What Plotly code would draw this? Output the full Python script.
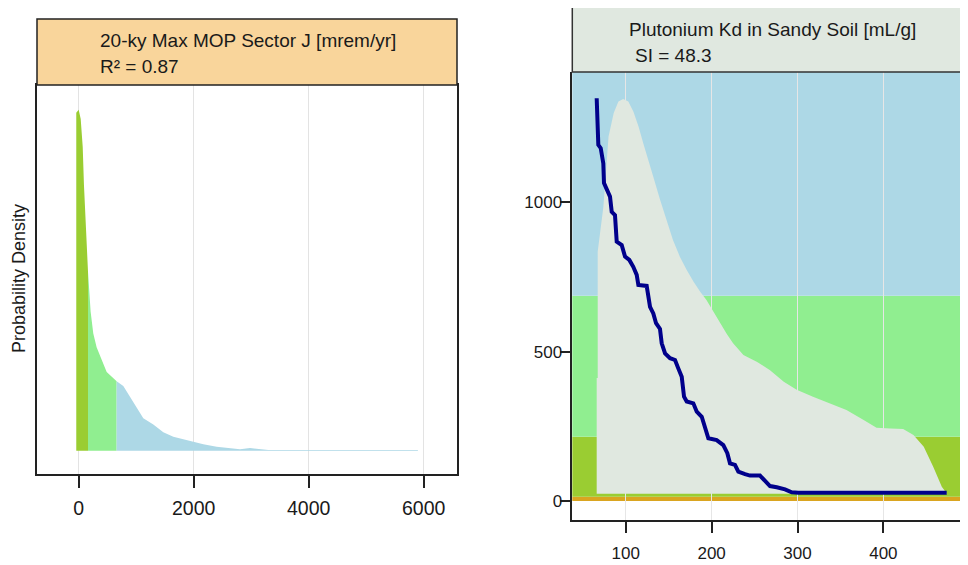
import plotly.graph_objects as go

W, H = 968, 565
OFF = 8  # page body margin around the plot div
FONT = "Liberation Sans, Arial, sans-serif"

# ---- left panel: dose density, split into three colour classes by dose ----
dose_low_x = [-42, 0, 35, 70, 92, 122, 150, 162]
dose_low_y = [21.9, 22.1, 21.5, 19.7, 17.2, 14.8, 12.5, 11.6]
dose_mid_x = [162, 180, 208, 254, 312, 400, 487, 660]
dose_mid_y = [11.6, 10.8, 9.0, 7.6, 6.7, 5.9, 5.1, 4.5]
dose_high_x = [660, 776, 892, 1008, 1124, 1298, 1472, 1646, 1820, 1994,
               2168, 2400, 2632, 2806, 2980, 3154, 3300, 5900]
dose_high_y = [4.5, 4.2, 3.5, 2.8, 2.1, 1.7, 1.2, 0.9, 0.74, 0.58,
               0.41, 0.26, 0.17, 0.09, 0.17, 0.08, 0.05, 0.05]
dose_ticks = [0, 2000, 4000, 6000]

# ---- right panel: Kd distribution (scaled) and conditional dose line ----
kd_x = [66.2, 66.2, 67.4, 67.4, 74, 80, 86, 91.5, 97, 103, 109, 115, 120.5,
        126, 132, 140, 147.5, 155, 163, 171, 179, 186.5, 194, 202, 210,
        217.5, 225, 237, 252.5, 268, 284, 299, 318, 338, 357, 377, 392, 408,
        423, 435, 447, 458, 468, 474]
kd_y = [24, 412, 412, 835, 985, 1220, 1299, 1337, 1346, 1337, 1303, 1253,
        1197, 1141, 1086, 1008, 941, 874, 818, 773, 734, 701, 673, 634, 596,
        560, 528, 489, 466, 438, 399, 372, 349, 327, 305, 271, 245, 243, 241,
        221, 182, 115, 48, 24]
kd_base = 24

line_x = [66.2, 66.9, 68.1, 70.9, 73.9, 74.7, 77.9, 81.7, 83.7, 87.5, 89.5,
          95.3, 99.2, 104.2, 108.8, 112.8, 114.7, 124.4, 128.3, 132.1, 135.3,
          139.9, 141.9, 145.8, 151.6, 157.4, 161.2, 165.2, 167.9, 171, 178.7,
          182.7, 188.5, 192.3, 196.2, 205.9, 213.6, 218.3, 221.4, 227.2,
          231.1, 238.9, 244.7, 256.3, 262.2, 268, 275.8, 285.5, 293.2, 300.9,
          473.7]
line_y = [1348, 1309, 1192, 1181, 1130, 1064, 1041, 1019, 968, 957, 868, 857,
          818, 807, 784, 757, 723, 720, 650, 628, 595, 576, 528, 494, 478, 472,
          444, 416, 349, 333, 327, 299, 282, 243, 210, 204, 187, 160, 126, 121,
          98, 90, 85, 85, 65, 50, 46, 39, 29, 28, 28]

band_edges = [0, 14, 215, 687, 1436]
band_colors = ["#DAA520", "#9ACD32", "#90EE90", "#ADD8E6"]
kd_ticks = [100, 200, 300, 400]
y2_ticks = [0, 500, 1000]

GRAY = "#E0E8E0"


# page pixel -> paper fraction
def px_x(p):
    return (p - OFF) / W


def px_y(p):
    return 1 - (p - OFF) / H


fig = go.Figure()

for xs, ys, col in [(dose_low_x, dose_low_y, "#9ACD32"),
                    (dose_mid_x, dose_mid_y, "#90EE90"),
                    (dose_high_x, dose_high_y, "#ADD8E6")]:
    fig.add_trace(go.Scatter(x=xs, y=ys, mode="lines", fill="tozeroy",
                             fillcolor=col, line=dict(width=0, color=col),
                             xaxis="x", yaxis="y", hoverinfo="skip"))

fig.add_trace(go.Scatter(
    x=[kd_x[0]] + kd_x + [kd_x[-1]], y=[kd_base] + kd_y + [kd_base],
    mode="lines", fill="toself", fillcolor=GRAY,
    line=dict(width=0, color=GRAY), xaxis="x2", yaxis="y2", hoverinfo="skip"))

fig.add_trace(go.Scatter(x=line_x, y=line_y, mode="lines",
                         line=dict(color="#00008B", width=4),
                         xaxis="x2", yaxis="y2"))

shapes = []
# background bands in the right panel
for i, col in enumerate(band_colors):
    shapes.append(dict(type="rect", xref="x2 domain", yref="y2",
                       x0=0, x1=1, y0=band_edges[i], y1=band_edges[i + 1],
                       fillcolor=col, line=dict(width=0), layer="below"))
# header boxes
shapes.append(dict(type="rect", xref="paper", yref="paper",
                   x0=px_x(37), x1=px_x(457), y0=px_y(85), y1=px_y(19),
                   fillcolor="#F9D59B", line=dict(color="#222", width=1.5)))
shapes.append(dict(type="rect", xref="paper", yref="paper",
                   x0=px_x(572.3), x1=px_x(990), y0=px_y(72), y1=px_y(6.7),
                   fillcolor=GRAY, line=dict(color="#333", width=1.5)))

tf = dict(family=FONT, color="#1a1a1a")
annotations = [
    dict(text="20-ky Max MOP Sector J [mrem/yr]", x=px_x(97.5), y=px_y(41),
         xref="paper", yref="paper", xanchor="left", yanchor="middle",
         showarrow=False, font=dict(size=19, **tf)),
    dict(text="R² = 0.87", x=px_x(97.5), y=px_y(67),
         xref="paper", yref="paper", xanchor="left", yanchor="middle",
         showarrow=False, font=dict(size=19, **tf)),
    dict(text="Plutonium Kd in Sandy Soil [mL/g]", x=px_x(626.5), y=px_y(29),
         xref="paper", yref="paper", xanchor="left", yanchor="middle",
         showarrow=False, font=dict(size=19, **tf)),
    dict(text="SI = 48.3", x=px_x(633), y=px_y(55),
         xref="paper", yref="paper", xanchor="left", yanchor="middle",
         showarrow=False, font=dict(size=19, **tf)),
    dict(text="Probability Density", x=px_x(19), y=px_y(279),
         xref="paper", yref="paper", xanchor="center", yanchor="middle",
         textangle=-90, showarrow=False, font=dict(size=18, **tf)),
]

axis_common = dict(zeroline=False, linecolor="#222", linewidth=1.5,
                   ticks="outside", tickcolor="#222", tickwidth=1.5)

fig.update_layout(
    width=W, height=H,
    margin=dict(l=0, r=0, t=0, b=0),
    paper_bgcolor="white", plot_bgcolor="white",
    showlegend=False,
    shapes=shapes, annotations=annotations,
    xaxis=dict(domain=[px_x(37), px_x(457)], range=[-725, 6580],
               tickvals=dose_ticks, showgrid=True, gridcolor="#E3E3E3",
               showline=True, mirror=True, ticklen=12, anchor="y",
               ticklabelstandoff=4,
               tickfont=dict(size=19.5, **tf), **axis_common),
    yaxis=dict(domain=[px_y(474), px_y(85)], range=[-1.51, 23.7],
               showticklabels=False, showgrid=False, showline=True,
               mirror=True, zeroline=False, linecolor="#222", linewidth=1.5,
               anchor="x"),
    xaxis2=dict(domain=[px_x(572.3), px_x(968)], range=[37.8, 498.5],
                tickvals=kd_ticks, showgrid=True, gridcolor="#E6E6E6",
                showline=True, ticklen=11, anchor="y2",
                ticklabelstandoff=6,
                tickfont=dict(size=17, **tf), **axis_common),
    yaxis2=dict(domain=[px_y(520), px_y(72)], range=[-63.6, 1436],
                tickvals=y2_ticks, showgrid=False, showline=True,
                ticklen=11, anchor="x2", ticklabelstandoff=-6,
                tickfont=dict(size=17, **tf), **axis_common),
)

fig.write_html("out.html")
